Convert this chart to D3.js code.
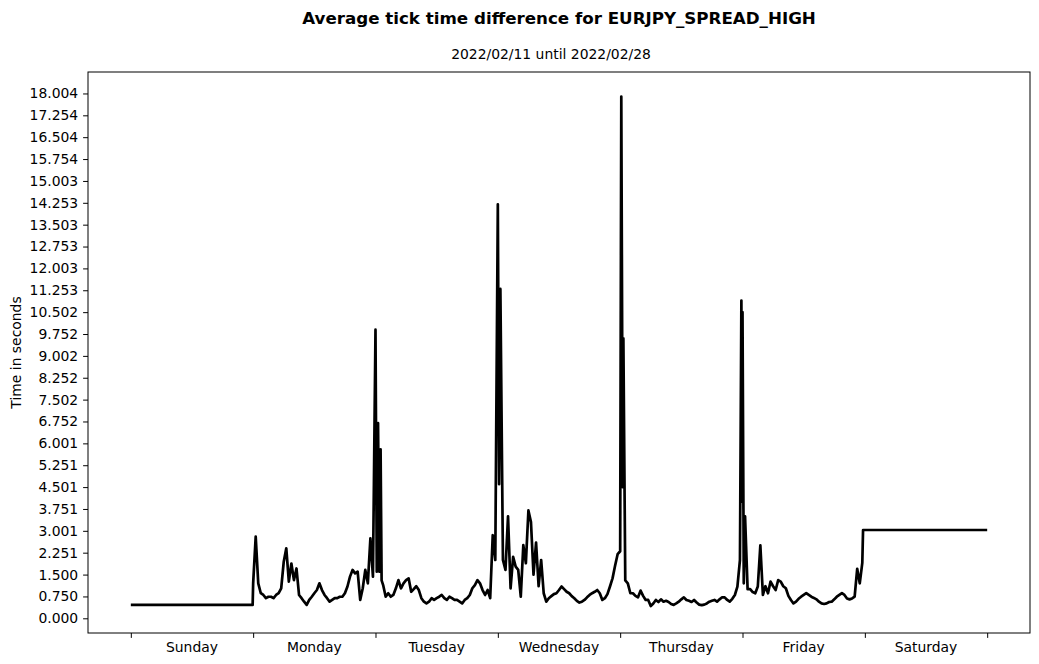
<!DOCTYPE html>
<html>
<head>
<meta charset="utf-8">
<script src="https://cdn.jsdelivr.net/npm/d3@7"></script>
<style>
  body { margin: 0; background: #fff; }
  svg { display: block; font-family: "DejaVu Sans", sans-serif; }
</style>
</head>
<body>
<svg id="chart" width="1039" height="664"></svg>
<script>
// days of the week shown on the x axis (one tick every 24 hours)
const days = ["Sunday", "Monday", "Tuesday", "Wednesday", "Thursday", "Friday", "Saturday"];

// y tick labels as printed on the original axis
const yTickLabels = ["0.000", "0.750", "1.500", "2.251", "3.001", "3.751", "4.501", "5.251",
  "6.001", "6.752", "7.502", "8.252", "9.002", "9.752", "10.502", "11.253", "12.003",
  "12.753", "13.503", "14.253", "15.003", "15.754", "16.504", "17.254", "18.004"];

// flat parts of the week (no ticks -> constant value)
const sundayLevel = 0.46;
const saturdayLevel = 3.03;
const saturdayStart = 143.65; // hour of week where the flat part begins

// half hourly averages, seconds
const monday = [1.2, 2.8, 1.2, 0.86, 0.8, 0.69, 0.74, 0.74, 0.69, 0.8, 0.86, 1.03, 1.94, 2.4, 1.26, 1.88,
  1.31, 1.71, 0.8, 0.69, 0.57, 0.46, 0.63, 0.74, 0.86, 0.97, 1.2, 0.97, 0.8, 0.69, 0.57, 0.63,
  0.69, 0.69, 0.74, 0.74, 0.86, 1.09, 1.43, 1.66, 1.54, 1.6, 0.63, 1.03, 1.66, 1.2, 2.74, 1.43];
const tuesday = [9.9, 6.7, 5.8, 1.14, 0.74, 0.86, 0.74, 0.8, 1.03, 1.31, 1.03, 1.2, 1.31, 1.37, 0.91, 1.0,
  1.1, 0.97, 0.69, 0.57, 0.51, 0.57, 0.69, 0.63, 0.69, 0.74, 0.8, 0.69, 0.63, 0.74, 0.69, 0.63,
  0.63, 0.57, 0.51, 0.63, 0.69, 0.8, 1.03, 1.14, 1.31, 1.2, 0.97, 0.8, 0.97, 0.69, 2.85, 2.0];
const wednesday = [14.2, 11.3, 2.0, 1.66, 3.5, 1.03, 2.11, 1.77, 1.66, 0.74, 2.51, 1.89, 3.7, 3.3, 1.5, 2.6,
  1.1, 2.0, 0.86, 0.57, 0.69, 0.76, 0.83, 0.86, 0.97, 1.09, 1.0, 0.91, 0.86, 0.76, 0.69, 0.6,
  0.54, 0.57, 0.63, 0.72, 0.8, 0.86, 0.91, 0.97, 0.86, 0.63, 0.69, 0.83, 1.09, 1.37, 1.8, 2.2];
const thursday = [2.3, 4.5, 1.3, 1.2, 0.86, 0.86, 0.77, 0.72, 0.95, 0.77, 0.63, 0.63, 0.42, 0.51, 0.63, 0.56,
  0.65, 0.57, 0.6, 0.56, 0.49, 0.46, 0.51, 0.57, 0.65, 0.72, 0.63, 0.6, 0.56, 0.63, 0.54, 0.47,
  0.45, 0.47, 0.51, 0.57, 0.6, 0.63, 0.57, 0.65, 0.72, 0.72, 0.63, 0.57, 0.67, 0.8, 1.09, 2.0];
const friday = [10.5, 3.5, 1.0, 1.0, 0.9, 0.86, 1.09, 2.5, 0.8, 1.1, 0.86, 1.26, 1.1, 0.97, 1.31, 1.26,
  1.1, 1.03, 0.77, 0.63, 0.51, 0.57, 0.67, 0.74, 0.8, 0.86, 0.8, 0.74, 0.7, 0.65, 0.57, 0.51,
  0.49, 0.51, 0.56, 0.57, 0.65, 0.74, 0.8, 0.86, 0.8, 0.68, 0.65, 0.68, 0.74, 1.7, 1.2, 1.9];

// extra readings between the half hour points, around the narrow spikes: [hour of week, seconds]
const spikeDetail = [
  [48.25, 1.6], [48.75, 1.6], [49.2, 1.3],
  [72.25, 4.6],
  [96.22, 17.9], [96.63, 9.6],
  [119.78, 10.9], [119.9, 4.0], [120.25, 1.2]
];

const stepHours = 0.5;

// build (hour of week, value) points
let points = [];
points.push([0, sundayLevel], [23.9, sundayLevel]);
[monday, tuesday, wednesday, thursday, friday].forEach((vals, d) => {
  vals.forEach((v, i) => points.push([24 * (d + 1) + i * stepHours, v]));
});
points = points.concat(spikeDetail);
points.push([saturdayStart, saturdayLevel], [168, saturdayLevel]);
points.sort((a, b) => a[0] - b[0]);

const svg = d3.select("#chart");
const margin = {left: 88, right: 9, top: 72, bottom: 31};
const W = 1039, H = 664;

// matplotlib style 5% padding on x
const x = d3.scaleLinear().domain([-8.4, 176.4]).range([margin.left, W - margin.right]);
const y = d3.scaleLinear().domain([-0.504, 18.74]).range([H - margin.bottom, margin.top]);

const fontSize = 13.9;
const tickLen = 4.9;

// y axis
const yAxis = d3.axisLeft(y)
  .tickValues(yTickLabels.map(Number))
  .tickFormat((d, i) => yTickLabels[i])
  .tickSize(tickLen).tickPadding(tickLen).tickSizeOuter(0);
const gy = svg.append("g").attr("transform", `translate(${margin.left},0)`).call(yAxis);
gy.select(".domain").remove();
gy.selectAll("text").attr("font-size", fontSize).attr("font-family", "DejaVu Sans").attr("fill", "#000");
gy.selectAll("line").attr("stroke", "#000").attr("stroke-width", 1);

// x axis: ticks at day boundaries, labels in the middle of each day
const xAxis = d3.axisBottom(x)
  .tickValues(d3.range(0, 169, 24))
  .tickFormat("")
  .tickSize(tickLen).tickSizeOuter(0);
const gx = svg.append("g").attr("transform", `translate(0,${H - margin.bottom})`).call(xAxis);
gx.select(".domain").remove();
gx.selectAll("line").attr("stroke", "#000").attr("stroke-width", 1);

svg.append("g").selectAll("text").data(days).join("text")
  .attr("x", (d, i) => x(i * 24 + 12))
  .attr("y", H - margin.bottom + 19)
  .attr("text-anchor", "middle")
  .attr("font-size", fontSize)
  .text(d => d);

// the line
const line = d3.line().x(d => x(d[0])).y(d => y(d[1]));
svg.append("path")
  .datum(points)
  .attr("fill", "none")
  .attr("stroke", "#000")
  .attr("stroke-width", 2.7)
  .attr("stroke-linejoin", "round")
  .attr("d", line);

// axes frame
svg.append("rect")
  .attr("x", margin.left).attr("y", margin.top)
  .attr("width", W - margin.left - margin.right)
  .attr("height", H - margin.top - margin.bottom)
  .attr("fill", "none").attr("stroke", "#000").attr("stroke-width", 1);

// titles
const cx = (margin.left + W - margin.right) / 2;
svg.append("text")
  .attr("x", cx).attr("y", 24)
  .attr("text-anchor", "middle")
  .attr("font-size", 16.7).attr("font-weight", "bold")
  .text("Average tick time difference for EURJPY_SPREAD_HIGH");
svg.append("text")
  .attr("x", cx - 8).attr("y", 59)
  .attr("text-anchor", "middle")
  .attr("font-size", fontSize)
  .text("2022/02/11 until 2022/02/28");

svg.append("text")
  .attr("transform", `translate(21,${(margin.top + H - margin.bottom) / 2}) rotate(-90)`)
  .attr("text-anchor", "middle")
  .attr("font-size", fontSize)
  .text("Time in seconds");
</script>
</body>
</html>
